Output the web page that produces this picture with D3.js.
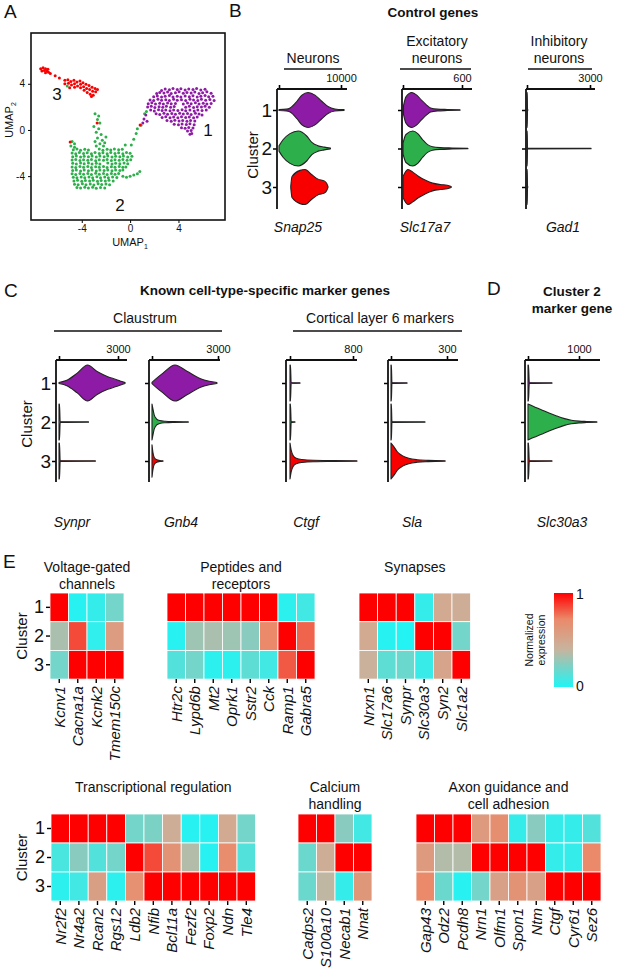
<!DOCTYPE html>
<html><head><meta charset="utf-8">
<script src="https://cdn.jsdelivr.net/npm/d3@7"></script>
<style>
body{margin:0;background:#fff;}
svg text{font-family:"Liberation Sans",Arial,sans-serif;fill:#111;}
</style></head><body>
<svg id="fig" width="617" height="972"></svg>
<script>
/* Figure: UMAP clusters, violin plots of marker genes and heatmaps of normalized expression */
const CLUSTERS = ['1', '2', '3'];
const CLUSTER_COLOR = { '1': '#8E1BA5', '2': '#2DB04B', '3': '#F80000' };

// --- A: UMAP coordinates (UMAP1,UMAP2)
const umap1 = `2.6,3.42 2.9,3.55 3.25,3.48 3.55,3.6 3.9,3.5 4.2,3.58 4.55,3.46 4.85,3.55 5.2,3.5 5.5,3.6 5.85,3.47 6.2,3.52
2.2,3.15 2.45,3.25 2.8,3.2 3.1,3.28 3.4,3.15 3.75,3.22 4.05,3.3 4.4,3.18 4.7,3.25 5.05,3.2 5.35,3.28 5.7,3.15 6.0,3.22 6.35,3.3 6.7,3.18
1.95,2.88 2.25,2.95 2.6,2.85 2.9,2.92 3.25,2.98 3.55,2.86 3.9,2.93 4.2,2.85 4.55,2.95 4.9,2.88 5.2,2.96 5.55,2.85 5.85,2.92 6.2,2.98 6.5,2.87 6.85,2.93
1.65,2.6 1.95,2.55 2.3,2.65 2.6,2.58 2.95,2.62 3.25,2.55 3.6,2.66 3.9,2.58 4.25,2.62 4.6,2.56 4.95,2.65 5.25,2.6 5.6,2.55 5.9,2.66 6.25,2.58 6.6,2.63 6.95,2.55
1.5,2.28 1.8,2.35 2.1,2.25 2.45,2.32 2.75,2.26 3.1,2.34 3.4,2.27 3.75,2.3 4.4,2.25 4.75,2.33 5.05,2.27 5.4,2.35 5.7,2.26 6.05,2.32 6.35,2.25 6.7,2.3
1.45,1.98 1.75,2.05 2.05,1.95 2.4,2.02 2.7,1.97 3.0,2.05 3.35,1.96 3.65,2.03 4.6,1.97 4.9,2.05 5.25,1.95 5.55,2.02 5.9,1.98 6.2,2.05 6.55,1.96
1.7,1.72 2.0,1.65 2.35,1.75 2.65,1.68 2.95,1.74 3.3,1.66 3.6,1.73 3.95,1.68 4.3,1.75 4.6,1.66 4.95,1.72 5.3,1.65 5.6,1.74 5.95,1.68 6.3,1.72
2.15,1.4 2.45,1.35 2.8,1.45 3.1,1.37 3.45,1.43 3.75,1.36 4.1,1.44 4.4,1.38 4.75,1.42 5.05,1.35 5.4,1.45 5.7,1.38 5.95,1.3
2.65,1.08 2.95,1.15 3.3,1.05 3.6,1.12 3.95,1.06 4.25,1.14 4.6,1.07 4.9,1.12 5.25,1.05 5.55,1.13
3.05,0.82 3.4,0.76 3.7,0.84 4.05,0.78 4.35,0.83 4.7,0.76 5.0,0.82 5.35,0.78
3.65,0.5 4.0,0.45 4.3,0.52 4.65,0.47 4.95,0.53 5.3,0.46 4.25,0.2 4.55,0.15 4.85,0.22 5.2,0.17
4.75,-0.1 5.05,-0.05 4.95,-0.38 5.1,-0.3 1.3,1.3 1.15,0.95 1.4,0.75 1.05,0.6`;

const umap2 = `-4.7,-1.72 -4.4,-1.65 -4.1,-1.75 -3.75,-1.68 -3.45,-1.74 -2.55,-1.66 -2.25,-1.75 -1.9,-1.68 -1.6,-1.73 -1.3,-1.65 -0.95,-1.72 -0.65,-1.68
-4.8,-2.0 -4.5,-2.06 -4.2,-1.95 -3.85,-2.04 -3.55,-1.97 -3.2,-2.05 -2.9,-1.96 -2.55,-2.03 -2.25,-1.98 -1.9,-2.06 -1.6,-1.95 -1.25,-2.03 -0.95,-1.97 -0.6,-2.05 -0.3,-1.96 0.0,-2.02
-4.75,-2.32 -4.45,-2.25 -4.1,-2.35 -3.8,-2.27 -3.45,-2.33 -3.15,-2.25 -2.8,-2.34 -2.5,-2.26 -2.15,-2.32 -1.85,-2.25 -1.5,-2.35 -1.2,-2.27 -0.85,-2.33 -0.55,-2.26 -0.2,-2.34 0.15,-2.28
-4.8,-2.6 -4.5,-2.55 -4.15,-2.65 -3.85,-2.58 -3.5,-2.63 -3.2,-2.55 -2.85,-2.66 -2.55,-2.58 -2.2,-2.62 -1.9,-2.55 -1.55,-2.64 -1.25,-2.57 -0.9,-2.63 -0.6,-2.56 -0.25,-2.62 0.05,-2.58
-4.75,-2.88 -4.45,-2.95 -4.1,-2.86 -3.8,-2.93 -3.45,-2.87 -3.15,-2.95 -2.8,-2.88 -2.5,-2.94 -1.85,-2.87 -1.5,-2.95 -1.2,-2.88 -0.85,-2.93 -0.5,-2.86 -0.2,-2.92
-4.8,-3.2 -4.5,-3.25 -4.15,-3.17 -3.85,-3.24 -3.5,-3.16 -3.2,-3.25 -2.85,-3.18 -2.55,-3.24 -2.2,-3.17 -1.9,-3.25 -1.55,-3.18 -1.25,-3.22 -0.9,-3.16 -0.6,-3.24 -0.35,-3.2
-4.75,-3.52 -4.45,-3.46 -4.1,-3.55 -3.8,-3.47 -3.45,-3.53 -3.15,-3.46 -2.8,-3.55 -2.5,-3.47 -2.15,-3.52 -1.85,-3.46 -1.5,-3.54 -1.2,-3.47 -0.85,-3.52 -0.6,-3.46
-4.8,-3.8 -4.5,-3.86 -4.15,-3.77 -3.85,-3.84 -3.5,-3.78 -3.2,-3.85 -2.85,-3.76 -2.55,-3.83 -2.2,-3.78 -1.9,-3.86 -1.55,-3.77 -1.25,-3.84 -0.95,-3.78
-4.7,-4.1 -4.4,-4.15 -4.05,-4.07 -3.75,-4.14 -3.4,-4.08 -3.1,-4.15 -2.75,-4.06 -2.45,-4.13 -2.1,-4.08 -1.8,-4.15 -1.45,-4.07 -1.1,-4.12
-4.65,-4.42 -4.35,-4.36 -4.0,-4.45 -3.7,-4.37 -3.35,-4.43 -3.05,-4.36 -2.7,-4.44 -2.4,-4.37 -2.05,-4.43 -1.75,-4.36 -1.4,-4.42
-4.6,-4.7 -4.3,-4.75 -3.95,-4.67 -3.65,-4.74 -3.3,-4.68 -3.0,-4.76 -2.65,-4.67 -2.35,-4.73 -2.0,-4.68 -1.7,-4.74
-4.4,-4.98 -4.1,-5.03 -3.75,-4.96 -3.45,-5.02 -3.1,-4.97 -2.8,-5.04 -2.45,-4.98 -2.1,-5.02
-0.6,-4.0 -0.3,-4.1 0.0,-4.0 0.3,-3.9 0.6,-3.8 0.8,-3.6
-2.9,1.4 -2.6,1.2 -2.7,0.9 -2.5,0.6 -3.0,0.3 -2.6,0.1 -2.8,-0.2 -2.4,-0.4 -2.7,-0.7 -2.3,-0.9 -2.9,-1.0 -2.5,-1.2 -2.2,-1.4 -2.8,-1.4 -2.0,-0.6 -2.1,-1.1
-4.8,-1.0 -4.6,-1.2 -4.9,-1.4 -4.6,-1.5
0.1,-1.3 0.3,-0.8 0.5,-0.3 0.6,0.1 0.9,0.4 1.2,1.4 1.35,1.6 -0.4,-1.3 -5.2,3.8`;

const umap3 = `-7.4,5.3 -7.2,5.4 -7.0,5.3 -7.3,5.1 -7.1,5.15 -6.9,5.1 -6.75,5.0 -6.6,4.9 -7.0,4.95 -6.8,5.25 -6.2,4.7 -5.85,4.5
-5.4,4.3 -5.4,4.0 -5.15,4.35 -5.1,4.05 -4.9,4.2 -4.85,3.9 -4.65,4.3 -4.6,4.0 -4.4,4.15 -4.35,3.8 -4.15,4.25 -4.1,3.95 -4.1,3.65
-3.9,4.1 -3.85,3.75 -3.8,3.45 -3.65,3.95 -3.6,3.6 -3.55,3.25 -3.4,3.85 -3.35,3.5 -3.3,3.1 -3.15,3.7 -3.1,3.35 -3.05,3.0
-2.9,3.6 -2.85,3.3 -2.7,3.5 -3.2,2.9 -4.6,3.7 -5.0,3.65 -4.96,-1.04 -2.73,0.6 0.83,0.43`;

// --- B: control genes, violin profiles [expression, relative density] per cluster
const snap25 = [
  [[0,0.03],[1200,0.05],[1800,0.12],[2900,0.5],[3700,0.85],[4700,1.0],[5800,0.85],[6900,0.5],[7900,0.2],[9000,0.06],[10500,0.02]],
  [[0,0.15],[650,0.5],[1770,0.85],[3100,1.0],[4500,0.7],[5300,0.35],[6300,0.15],[7300,0.08],[8300,0.02]],
  [[1900,0.05],[2100,0.6],[3400,0.95],[4200,1.0],[5300,0.7],[6300,0.45],[7300,0.35],[7700,0.2],[7900,0.03]]
];
const slc17a7 = [
  [[5,0.25],[30,0.75],[90,1.0],[140,0.85],[190,0.55],[240,0.28],[280,0.12],[350,0.05],[450,0.03],[580,0.015]],
  [[0,0.3],[30,0.8],[100,1.0],[150,0.85],[200,0.5],[250,0.22],[300,0.1],[380,0.05],[500,0.03],[660,0.015]],
  [[0,0.6],[50,1.0],[100,0.85],[160,0.6],[230,0.38],[300,0.22],[380,0.14],[450,0.1],[490,0.03]]
];
const gad1 = [
  [[0,1],[12,1],[25,0.03],[40,0.01]],
  [[0,1],[12,1],[25,0.03],[3050,0.015]],
  [[0,1],[12,1],[25,0.03],[40,0.01]]
];
// --- C: known markers
const synpr = [
  [[0,0.03],[400,0.15],[930,0.55],[1450,1.0],[1960,0.62],[2480,0.35],[2900,0.2],[3200,0.08],[3360,0.02]],
  [[0,1],[25,1],[60,0.03],[1500,0.015]],
  [[0,1],[25,1],[60,0.03],[1850,0.015]]
];
const gnb4 = [
  [[0,0.03],[150,0.2],[500,0.55],[1045,1.0],[1590,0.65],[2180,0.25],[2600,0.1],[2950,0.03]],
  [[0,1],[40,0.75],[100,0.4],[200,0.18],[350,0.08],[600,0.04],[1000,0.02],[1650,0.01]],
  [[0,0.9],[40,0.5],[100,0.2],[200,0.08],[350,0.03],[500,0.01]]
];
const ctgf = [
  [[0,1],[6,1],[15,0.03],[127,0.015]],
  [[0,1],[6,1],[15,0.03],[63,0.015]],
  [[0,1],[15,0.6],[40,0.3],[80,0.15],[150,0.08],[300,0.04],[550,0.025],[850,0.01]]
];
const sla = [
  [[0,1],[2,1],[5,0.03],[86,0.015]],
  [[0,1],[2,1],[5,0.03],[182,0.015]],
  [[0,1],[15,0.8],[35,0.5],[60,0.3],[95,0.15],[140,0.07],[200,0.035],[290,0.01]]
];
// --- D: cluster 2 marker
const slc30a3 = [
  [[0,1],[10,1],[25,0.03],[470,0.015]],
  [[0,1],[120,0.85],[250,0.7],[400,0.52],[550,0.35],[700,0.2],[850,0.1],[1000,0.05],[1150,0.03],[1350,0.01]],
  [[0,1],[10,1],[25,0.03],[470,0.015]]
];

// --- E: normalized expression (rows = clusters 1..3)
const voltageGenes = ['Kcnv1', 'Cacna1a', 'Kcnk2', 'Tmem150c'];
const voltageVals = [[1, 0.02, 0.05, 0.2], [0.33, 0.85, 0.04, 0.58], [0.2, 1, 1, 1]];
const peptideGenes = ['Htr2c', 'Lypd6b', 'Mt2', 'Oprk1', 'Sstr2', 'Cck', 'Ramp1', 'Gabra5'];
const peptideVals = [[1, 1, 1, 1, 1, 1, 0.03, 0.08], [0.02, 0.3, 0.33, 0.3, 0.25, 0.72, 1, 0.8], [0.12, 0.2, 0.03, 0.03, 0.15, 0.08, 0.82, 1]];
const synapseGenes = ['Nrxn1', 'Slc17a6', 'Synpr', 'Slc30a3', 'Syn2', 'Slc1a2'];
const synapseVals = [[1, 1, 1, 0.05, 0.48, 0.45], [0.48, 0.02, 0.01, 1, 1, 0.2], [0.42, 0.15, 0.18, 0.06, 0.52, 1]];
const transcrGenes = ['Nr2f2', 'Nr4a2', 'Rcan2', 'Rgs12', 'Ldb2', 'Nfib', 'Bcl11a', 'Fezf2', 'Foxp2', 'Ndn', 'Tle4'];
const transcrVals = [[1, 1, 1, 1, 0.2, 0.22, 0.45, 0.02, 0.02, 0.48, 0.2], [0.1, 0.25, 0.12, 0.2, 1, 0.85, 0.65, 0.35, 0.02, 0.7, 0.12], [0.03, 0.08, 0.56, 0.03, 0.67, 1, 1, 1, 1, 1, 1]];
const calciumGenes = ['Cadps2', 'S100a10', 'Necab1', 'Nnat'];
const calciumVals = [[1, 1, 0.25, 0.08], [0.18, 0.45, 1, 1], [0.18, 0.38, 0.05, 0.62]];
const axonGenes = ['Gap43', 'Odz2', 'Pcdh8', 'Nrn1', 'Olfm1', 'Spon1', 'Ntm', 'Ctgf', 'Cyr61', 'Sez6'];
const axonVals = [[1, 1, 1, 0.6, 0.68, 0.05, 0.25, 0.05, 0.05, 0.12], [0.6, 0.35, 0.35, 1, 1, 1, 1, 0.05, 0.05, 0.72], [0.72, 0.18, 0.02, 0.2, 0.55, 0.65, 0.55, 1, 1, 1]];

const heatStops = [0, 0.4, 0.72, 1];
const heatColors = ['#1FF5F5', '#C8B49E', '#EA8A6A', '#FF0000'];

/* ------------------------------------------------------------------ */
const svg = d3.select('#fig');
svg.append('rect').attr('width', 617).attr('height', 972).attr('fill', '#fff');

function txt(g, x, y, s, o = {}) {
  return g.append('text').attr('x', x).attr('y', y).text(s)
    .attr('font-size', o.size || 14)
    .attr('text-anchor', o.anchor || 'middle')
    .attr('font-weight', o.bold ? 'bold' : null)
    .attr('font-style', o.italic ? 'italic' : null);
}
function vtxt(g, x, y, s, size) {
  return g.append('text').attr('transform', `translate(${x},${y}) rotate(-90)`)
    .attr('text-anchor', 'middle').attr('font-size', size).text(s);
}
function line(g, x1, y1, x2, y2, w) {
  return g.append('line').attr('x1', x1).attr('y1', y1).attr('x2', x2).attr('y2', y2)
    .attr('stroke', '#111').attr('stroke-width', w || 1.5);
}
const parsePts = s => s.trim().split(/\s+/).map(p => p.split(',').map(Number));

/* ---------------- A: UMAP ---------------- */
(function () {
  const g = svg.append('g');
  txt(g, 4, 18, 'A', { size: 19, anchor: 'start' });
  const x = d3.scaleLinear().domain([-8.2, 7.85]).range([31, 225]);
  const y = d3.scaleLinear().domain([-7.8, 8.4]).range([220, 33]);
  [['2', umap2], ['1', umap1], ['3', umap3]].forEach(([c, s]) => {
    g.append('g').selectAll('circle').data(parsePts(s)).join('circle')
      .attr('cx', d => x(d[0])).attr('cy', d => y(d[1])).attr('r', 1.5)
      .attr('fill', CLUSTER_COLOR[c]);
  });
  const ya = g.append('g').attr('transform', 'translate(31,0)')
    .call(d3.axisLeft(y).tickValues([-4, 0, 4]).tickSize(3).tickPadding(3).tickFormat(d => String(d)));
  const xa = g.append('g').attr('transform', 'translate(0,220)')
    .call(d3.axisBottom(x).tickValues([-4, 0, 4]).tickSize(3).tickPadding(2).tickFormat(d => String(d)));
  [ya, xa].forEach(a => { a.select('.domain').remove(); a.selectAll('text').attr('font-size', 10); });
  g.append('rect').attr('x', 31).attr('y', 33).attr('width', 194).attr('height', 187)
    .attr('fill', 'none').attr('stroke', '#111').attr('stroke-width', 1.6);
  const t1 = txt(g, 130, 246, 'UMAP', { size: 11 });
  t1.append('tspan').attr('font-size', 7).attr('dy', 3).text('1');
  const t2 = g.append('text').attr('transform', 'translate(13,120) rotate(-90)')
    .attr('text-anchor', 'middle').attr('font-size', 11).text('UMAP');
  t2.append('tspan').attr('font-size', 7).attr('dy', 3).text('2');
  txt(g, 57, 100, '3', { size: 17 });
  txt(g, 208, 136, '1', { size: 17 });
  txt(g, 120, 211, '2', { size: 17 });
})();

/* ---------------- violin panels ---------------- */
function violinPanel(p) {
  const g = svg.append('g');
  const x = d3.scaleLinear().domain([0, p.max]).range([p.zero, p.maxPx]);
  const y = d3.scalePoint().domain(CLUSTERS).range(p.ys);
  const top = g.append('g').attr('transform', `translate(0,${p.axisY})`)
    .call(d3.axisTop(x).tickValues([0, p.max]).tickSize(4).tickPadding(3).tickFormat(d => d ? d : ''));
  top.select('.domain').remove();
  top.selectAll('text').attr('font-size', 11);
  top.selectAll('line').attr('stroke-width', 1.6);
  line(g, p.left, p.axisY, p.right, p.axisY, 1.8);
  const lft = g.append('g').attr('transform', `translate(${p.left},0)`)
    .call(d3.axisLeft(y).tickSize(4).tickPadding(1).tickFormat(p.nums ? d => d : ''));
  lft.select('.domain').remove();
  lft.selectAll('text').attr('font-size', 19);
  lft.selectAll('line').attr('stroke-width', 1.5);
  line(g, p.left, p.axisY, p.left, p.bottom, 1.8);
  const area = cy => d3.area().x(d => x(d[0]))
    .y0(d => cy - d[1] * p.hw).y1(d => cy + d[1] * p.hw).curve(d3.curveMonotoneX);
  p.data.forEach((prof, i) => {
    const c = CLUSTERS[i];
    g.append('path').attr('d', area(y(c))(prof)).attr('fill', CLUSTER_COLOR[c])
      .attr('stroke', '#222').attr('stroke-width', 1.1).attr('stroke-linejoin', 'round');
  });
  txt(g, p.labelX, p.labelY, p.gene, { size: 14, italic: true });
  if (p.header) {
    p.header.forEach((h, i) => txt(g, p.headerX, p.headerY - (p.header.length - 1 - i) * 17, h, { size: 14 }));
    line(g, p.ulx[0], p.headerY + 6, p.ulx[1], p.headerY + 6, 1.5);
  }
}

// B
txt(svg, 229, 17, 'B', { size: 19, anchor: 'start' });
txt(svg, 433, 17, 'Control genes', { size: 13.5, bold: true });
const bBase = { axisY: 89, bottom: 209, ys: [110, 187], hw: 17.5, labelY: 232, headerY: 63 };
violinPanel(Object.assign({}, bBase, { data: snap25, max: 10000, zero: 279, maxPx: 341, left: 277, right: 347,
  nums: true, gene: 'Snap25', labelX: 298, header: ['Neurons'], headerX: 313, ulx: [284, 342] }));
violinPanel(Object.assign({}, bBase, { data: slc17a7, max: 600, zero: 403, maxPx: 462, left: 402, right: 472,
  gene: 'Slc17a7', labelX: 425, header: ['Excitatory', 'neurons'], headerX: 437, ulx: [400, 471] }));
violinPanel(Object.assign({}, bBase, { data: gad1, max: 3000, zero: 527, maxPx: 590, left: 526, right: 595,
  gene: 'Gad1', labelX: 563, header: ['Inhibitory', 'neurons'], headerX: 559, ulx: [528, 592] }));
vtxt(svg, 258, 155, 'Cluster', 15);

// C
txt(svg, 4, 297, 'C', { size: 19, anchor: 'start' });
txt(svg, 265, 295, 'Known cell-type-specific marker genes', { size: 13.5, bold: true });
txt(svg, 145, 323, 'Claustrum', { size: 14 });
line(svg, 54, 331, 222, 331, 1.5);
txt(svg, 380, 323, 'Cortical layer 6 markers', { size: 14 });
line(svg, 293, 331, 462, 331, 1.5);
const cBase = { axisY: 360, bottom: 482, ys: [383, 461], hw: 18, labelY: 527 };
violinPanel(Object.assign({}, cBase, { data: synpr, max: 3000, zero: 59, maxPx: 118, left: 56, right: 127,
  nums: true, gene: 'Synpr', labelX: 72 }));
violinPanel(Object.assign({}, cBase, { data: gnb4, max: 3000, zero: 152, maxPx: 218, left: 149, right: 220,
  gene: 'Gnb4', labelX: 181 }));
violinPanel(Object.assign({}, cBase, { data: ctgf, max: 800, zero: 290, maxPx: 353, left: 286, right: 357,
  gene: 'Ctgf', labelX: 306 }));
violinPanel(Object.assign({}, cBase, { data: sla, max: 300, zero: 391, maxPx: 447, left: 388, right: 458,
  gene: 'Sla', labelX: 412 }));
vtxt(svg, 32, 424, 'Cluster', 15);

// D
txt(svg, 487, 295, 'D', { size: 19, anchor: 'start' });
txt(svg, 572, 296, 'Cluster 2', { size: 13.5, bold: true });
txt(svg, 572, 313, 'marker gene', { size: 13.5, bold: true });
violinPanel(Object.assign({}, cBase, { data: slc30a3, max: 1000, zero: 528, maxPx: 579, left: 525, right: 600,
  gene: 'Slc30a3', labelX: 562 }));

/* ---------------- E: heatmaps ---------------- */
const heatColor = d3.scaleLinear().domain(heatStops).range(heatColors);
txt(svg, 3, 568, 'E', { size: 19, anchor: 'start' });

function heatmap(p) {
  const g = svg.append('g');
  const x = d3.scaleBand().domain(p.genes).range([p.x, p.x + p.genes.length * p.cw]);
  const y = d3.scaleBand().domain(CLUSTERS).range([p.y, p.y + 3 * p.ch]);
  const cells = [];
  p.vals.forEach((row, r) => row.forEach((v, j) => cells.push({ c: CLUSTERS[r], gene: p.genes[j], v })));
  g.selectAll('rect').data(cells).join('rect')
    .attr('x', d => x(d.gene)).attr('y', d => y(d.c))
    .attr('width', x.bandwidth()).attr('height', y.bandwidth())
    .attr('fill', d => heatColor(d.v)).attr('stroke', '#fff').attr('stroke-width', 0.8);
  const bx = g.append('g').attr('transform', `translate(0,${p.y + 3 * p.ch})`)
    .call(d3.axisBottom(x).tickSize(4).tickPadding(3));
  bx.select('.domain').remove();
  bx.selectAll('line').attr('stroke-width', 1.4);
  bx.selectAll('text').attr('transform', 'rotate(-90)').attr('x', -7).attr('y', 0).attr('dy', '0.35em')
    .attr('text-anchor', 'end').attr('font-size', 15).attr('font-style', 'italic');
  if (p.rows) {
    const ly = g.append('g').attr('transform', `translate(${p.x},0)`)
      .call(d3.axisLeft(y).tickSize(4).tickPadding(2));
    ly.select('.domain').remove();
    ly.selectAll('line').attr('stroke-width', 1.4);
    ly.selectAll('text').attr('font-size', 18);
    vtxt(g, 27, p.y + 1.5 * p.ch, 'Cluster', 15);
  }
  p.title.forEach((t, i) => txt(g, p.x + p.genes.length * p.cw / 2, p.titleY + i * 17, t, { size: 14 }));
}

heatmap({ genes: voltageGenes, vals: voltageVals, x: 50, y: 593, cw: 18.5, ch: 28.7, rows: true,
  title: ['Voltage-gated', 'channels'], titleY: 572 });
heatmap({ genes: peptideGenes, vals: peptideVals, x: 167, y: 593, cw: 18.5, ch: 28.7,
  title: ['Peptides and', 'receptors'], titleY: 572 });
heatmap({ genes: synapseGenes, vals: synapseVals, x: 359, y: 593, cw: 18.6, ch: 28.7,
  title: ['Synapses'], titleY: 572 });
heatmap({ genes: transcrGenes, vals: transcrVals, x: 51, y: 814, cw: 18.6, ch: 29, rows: true,
  title: ['Transcriptional regulation'], titleY: 792 });
heatmap({ genes: calciumGenes, vals: calciumVals, x: 298, y: 814, cw: 18.5, ch: 29,
  title: ['Calcium', 'handling'], titleY: 792 });
heatmap({ genes: axonGenes, vals: axonVals, x: 416, y: 814, cw: 18.5, ch: 29,
  title: ['Axon guidance and', 'cell adhesion'], titleY: 792 });

// legend
(function () {
  const grad = svg.append('defs').append('linearGradient').attr('id', 'heatGrad')
    .attr('x1', 0).attr('y1', 1).attr('x2', 0).attr('y2', 0);
  heatStops.forEach((s, i) => grad.append('stop').attr('offset', s).attr('stop-color', heatColors[i]));
  svg.append('rect').attr('x', 554).attr('y', 593).attr('width', 19).attr('height', 94).attr('fill', 'url(#heatGrad)');
  txt(svg, 576, 599, '1', { size: 14, anchor: 'start' });
  txt(svg, 576, 691, '0', { size: 14, anchor: 'start' });
  vtxt(svg, 533, 640, 'Normalized', 10.5);
  vtxt(svg, 545, 640, 'expression', 10.5);
})();
</script>
</body></html>
